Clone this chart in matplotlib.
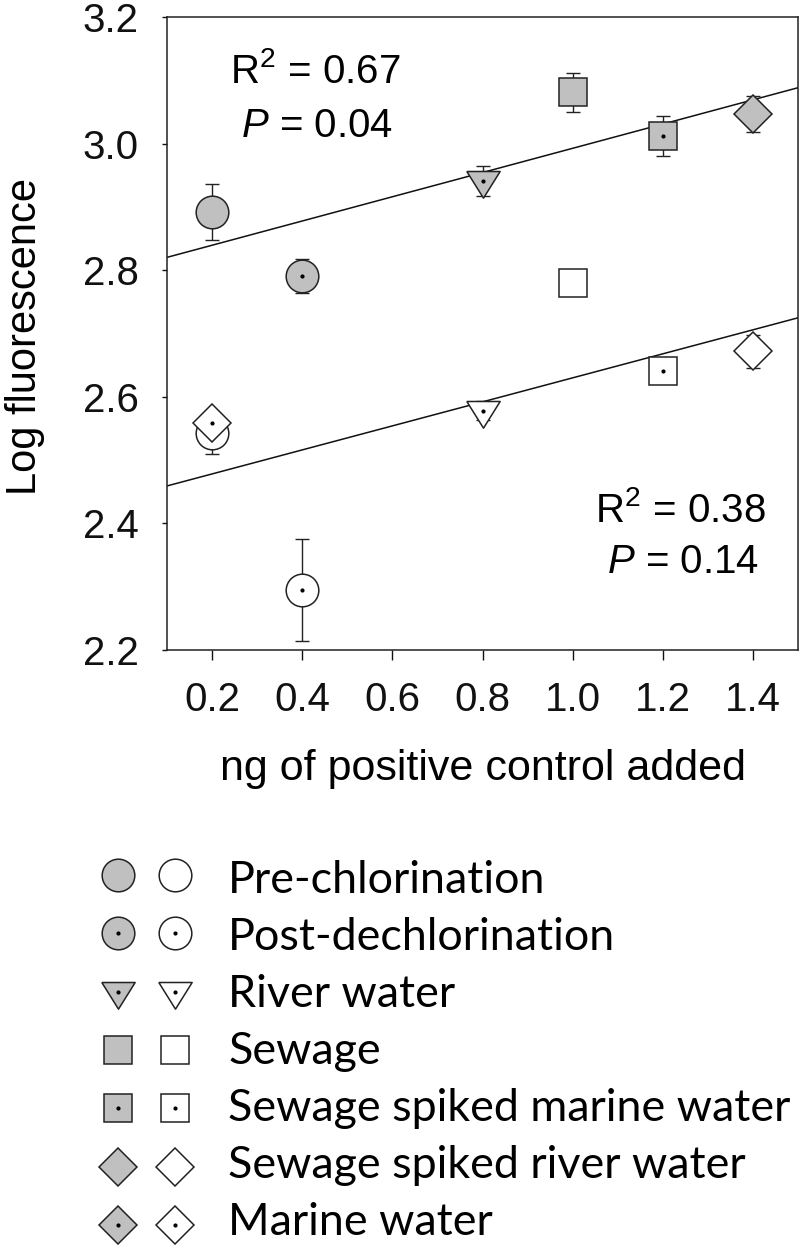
import numpy as np
import matplotlib.pyplot as plt
from matplotlib.ticker import FormatStrFormatter

plt.rcParams['font.family'] = ['Liberation Sans', 'DejaVu Sans']
plt.rcParams['mathtext.fontset'] = 'custom'
plt.rcParams['mathtext.rm'] = 'Liberation Sans'
plt.rcParams['mathtext.it'] = 'Liberation Sans:italic'

# sample types (legend order)
categories = ['Pre-chlorination', 'Post-dechlorination', 'River water', 'Sewage',
              'Sewage spiked marine water', 'Sewage spiked river water', 'Marine water']
# ng of positive control added for each sample type
ng_added = np.array([0.2, 0.4, 0.8, 1.0, 1.2, 1.4, 0.2])
# grey symbols (upper group), marine water has no grey point
log_fl_grey = np.array([2.892, 2.791, 2.941, 3.081, 3.012, 3.047, np.nan])
err_grey = np.array([0.044, 0.027, 0.024, 0.031, 0.031, 0.028, np.nan])
# white symbols (lower group)
log_fl_white = np.array([2.543, 2.295, 2.578, 2.780, 2.641, 2.672, 2.559])
err_white = np.array([0.033, 0.080, 0.015, 0.010, 0.010, 0.026, 0.010])

stats_grey = ['R$^2$ = 0.67', '$P$ = 0.04']
stats_white = ['R$^2$ = 0.38', '$P$ = 0.14']
x_ticks = [0.2, 0.4, 0.6, 0.8, 1.0, 1.2, 1.4]
y_ticks = [2.2, 2.4, 2.6, 2.8, 3.0, 3.2]

# marker styles per sample type
tri_down = [(-1, 0.6), (1, 0.6), (0, -1), (-1, 0.6)]
mk = ['o', 'o', tri_down, 's', 's', 'D', 'D']
mk_size = [23.5, 23.5, 24, 20, 20, 19.3, 19.3]
has_dot = [False, True, True, False, True, False, True]
grey = '#c0c0c0'

fig = plt.figure(figsize=(8, 12.53), dpi=100)
ax = fig.add_axes([167 / 800, 1 - 650 / 1253, 631 / 800, 633 / 1253])
ax.set_xlim(0.1, 1.5)
ax.set_ylim(2.2, 3.2)


def draw_point(axis, x, y, err, i, face):
    if np.isnan(y):
        return
    axis.errorbar(x, y, yerr=err, fmt='none', ecolor='#222222', elinewidth=1.0,
                  capsize=5, capthick=1.0, zorder=2)
    axis.plot(x, y, ls='none', marker=mk[i], ms=mk_size[i], mfc=face,
              mec='#222222', mew=1.1, zorder=3)
    if has_dot[i]:
        axis.plot(x, y, ls='none', marker='o', ms=2, color='black', zorder=4)


for i in range(len(categories)):
    draw_point(ax, ng_added[i], log_fl_grey[i], err_grey[i], i, grey)
    draw_point(ax, ng_added[i], log_fl_white[i], err_white[i], i, 'white')

# regression lines
xs = np.array(ax.get_xlim())
for yv in (log_fl_grey, log_fl_white):
    ok = ~np.isnan(yv)
    k, b = np.polyfit(ng_added[ok], yv[ok], 1)
    ax.plot(xs, k * xs + b, color='#111111', lw=1.1, zorder=1)

# statistics text
ax.text(0.2345, 0.896, stats_grey[0], transform=ax.transAxes, ha='center', va='baseline', fontsize=29)
ax.text(0.238, 0.810, stats_grey[1], transform=ax.transAxes, ha='center', va='baseline', fontsize=29)
ax.text(0.813, 0.202, stats_white[0], transform=ax.transAxes, ha='center', va='baseline', fontsize=29)
ax.text(0.818, 0.122, stats_white[1], transform=ax.transAxes, ha='center', va='baseline', fontsize=29)

ax.set_xticks(x_ticks)
ax.set_yticks(y_ticks)
ax.xaxis.set_major_formatter(FormatStrFormatter('%.1f'))
ax.yaxis.set_major_formatter(FormatStrFormatter('%.1f'))
ax.tick_params(axis='x', direction='out', length=7, width=1, pad=15, labelsize=29, colors='#111111')
ax.tick_params(axis='y', direction='out', length=3.6, width=1, pad=17, labelsize=29, colors='#111111')
for sp in ax.spines.values():
    sp.set_linewidth(1.1)
    sp.set_color('#222222')

ax.set_xlabel('ng of positive control added', fontsize=31, labelpad=22)
fig.text(25 / 800, 1 - 337 / 1253, 'Log fluorescence', rotation=90, ha='center', va='center', fontsize=30)

# legend block below the plot
lax = fig.add_axes([0, 0, 1, 1])
lax.set_xlim(0, 800)
lax.set_ylim(1253, 0)
lax.axis('off')
for i, name in enumerate(categories):
    ym = 875 + 58.3 * i
    for xm, face in ((118, grey), (175, 'white')):
        lax.plot(xm, ym, ls='none', marker=mk[i], ms=mk_size[i], mfc=face, mec='#222222', mew=1.1)
        if has_dot[i]:
            lax.plot(xm, ym, ls='none', marker='o', ms=2, color='black')
    lax.text(228, 893 + 57 * i, name, ha='left', va='baseline', fontsize=32.3,
             family=['Lato', 'DejaVu Sans'])

fig.savefig('out.png', dpi=100)
